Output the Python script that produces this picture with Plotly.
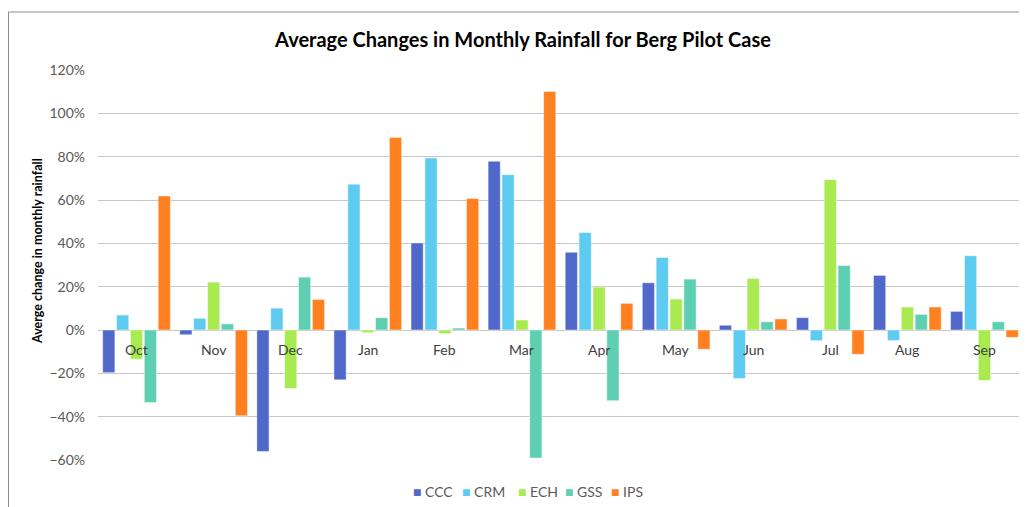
import plotly.graph_objects as go

months = ["Oct", "Nov", "Dec", "Jan", "Feb", "Mar", "Apr", "May", "Jun", "Jul", "Aug", "Sep"]
series_names = ["CCC", "CRM", "ECH", "GSS", "IPS"]
ccc = [-0.197, -0.022, -0.561, -0.230, 0.402, 0.779, 0.359, 0.218, 0.022, 0.057, 0.252, 0.086]
crm = [0.069, 0.054, 0.101, 0.673, 0.794, 0.717, 0.450, 0.335, -0.224, -0.049, -0.049, 0.343]
ech = [-0.135, 0.221, -0.270, -0.012, -0.017, 0.046, 0.198, 0.143, 0.238, 0.694, 0.106, -0.233]
gss = [-0.335, 0.028, 0.244, 0.057, 0.009, -0.591, -0.326, 0.235, 0.038, 0.298, 0.072, 0.038]
ips = [0.619, -0.396, 0.141, 0.889, 0.607, 1.101, 0.123, -0.089, 0.051, -0.112, 0.106, -0.034]
colors = ["#4F68C9", "#5ECBF1", "#A8EA4F", "#5ECFB1", "#FF8021"]
y_ticks = [-0.6, -0.4, -0.2, 0, 0.2, 0.4, 0.6, 0.8, 1.0, 1.2]

# the page body adds an 8px offset; layout coordinates below are page coords minus 8
OFF = 8
W, H = 1027 - OFF, 507 - OFF
L, T = 98 - OFF, 70 - OFF
R = W - (1023 - OFF)
B = H - (460 - OFF)
pw, ph = W - L - R, H - T - B


def px_x(page_x):
    return (page_x - OFF - L) / pw


def px_y(page_y):
    return (H - B - (page_y - OFF)) / ph


fig = go.Figure()
for name, vals, c in zip(series_names, [ccc, crm, ech, gss, ips], colors):
    fig.add_trace(go.Bar(x=months, y=vals, name=name, showlegend=False,
                         marker=dict(color=c, line=dict(color="rgba(255,255,255,0.6)", width=0.8))))

annotations = []
for m in months:
    annotations.append(dict(x=m, y=0, xref="x", yref="y", text=m, showarrow=False,
                            yanchor="top", yshift=-9, font=dict(size=14, color="#404040", family="Lato")))
annotations.append(dict(x=px_x(37), y=px_y(251), xref="paper", yref="paper", xanchor="center", yanchor="middle",
                        text="<b>Averge change in monthly rainfall</b>", textangle=-90, showarrow=False,
                        font=dict(size=12.5, color="#000000", family="Lato")))

# legend (compact, like the original)
legend_x = [411, 460, 516, 563, 609]
for name, c, lx in zip(series_names, colors, legend_x):
    annotations.append(dict(x=px_x(lx), y=px_y(491), xref="paper", yref="paper",
                            xanchor="left", yanchor="middle", showarrow=False,
                            text=f'<span style="color:{c}">■</span> {name}',
                            font=dict(size=14, color="#595959", family="Lato")))

fig.update_layout(
    width=W, height=H,
    margin=dict(l=L, r=R, t=T, b=B, autoexpand=False),
    paper_bgcolor="white", plot_bgcolor="white",
    title=dict(text="<b>Average Changes in Monthly Rainfall for Berg Pilot Case</b>",
               x=(523 - OFF) / W, xanchor="center", y=1 - (40 - OFF) / H, yanchor="middle",
               font=dict(size=20, color="#000000", family="Lato")),
    barmode="group", bargap=0.1, bargroupgap=0.12,
    xaxis=dict(showticklabels=False, showgrid=False, zeroline=False, showline=False, ticks=""),
    yaxis=dict(range=[-0.6, 1.2], tickvals=y_ticks, tickformat=".0%", showgrid=True,
               gridcolor="#C8C8C8", gridwidth=1, zeroline=True, zerolinecolor="#C8C8C8", zerolinewidth=1,
               showline=False, ticks="", ticklabelstandoff=12,
               tickfont=dict(size=14, color="#595959", family="Lato")),
    annotations=annotations,
    showlegend=False,
    shapes=[
        dict(type="line", xref="paper", yref="paper", x0=px_x(8.5), x1=1.2, y0=px_y(12), y1=px_y(12),
             line=dict(color="#8C8C8C", width=1)),
        dict(type="line", xref="paper", yref="paper", x0=px_x(8.5), x1=px_x(8.5), y0=px_y(12), y1=-0.5,
             line=dict(color="#8C8C8C", width=1)),
    ],
)

fig.write_html("out.html")
